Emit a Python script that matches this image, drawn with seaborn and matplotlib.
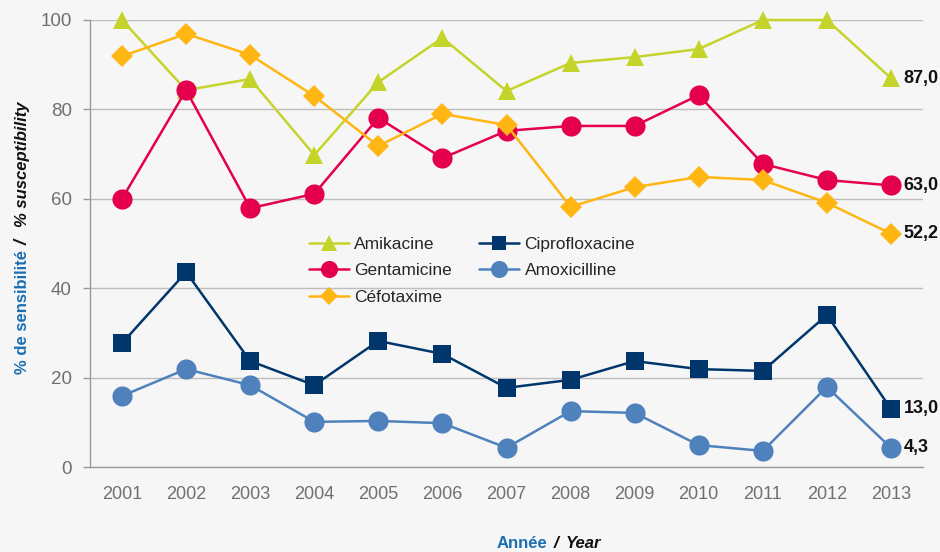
import matplotlib
matplotlib.use("Agg")
import matplotlib.pyplot as plt
import seaborn as sns
import pandas as pd
import numpy as np

years = list(range(2001, 2014))
amikacine = [100, 84.3, 86.8, 69.8, 86.1, 96.0, 84.1, 90.4, 91.7, 93.5, 100, 100, 87.0]
gentamicine = [60.0, 84.3, 57.9, 61.1, 78.1, 69.1, 75.2, 76.3, 76.3, 83.2, 67.8, 64.2, 63.0]
cefotaxime = [91.9, 96.9, 92.2, 83.0, 71.8, 79.0, 76.5, 58.2, 62.6, 64.9, 64.2, 59.1, 52.2]
ciprofloxacine = [27.7, 43.6, 23.7, 18.3, 28.2, 25.3, 17.7, 19.5, 23.7, 21.9, 21.5, 34.0, 13.0]
amoxicilline = [15.9, 21.9, 18.3, 10.1, 10.3, 9.8, 4.3, 12.5, 12.1, 4.9, 3.6, 17.9, 4.3]
end_labels = ["87,0", "63,0", "52,2", "13,0", "4,3"]

series = {
    "Amikacine": amikacine,
    "Gentamicine": gentamicine,
    "Céfotaxime": cefotaxime,
    "Ciprofloxacine": ciprofloxacine,
    "Amoxicilline": amoxicilline,
}
colors = {
    "Amikacine": "#c5d42a",
    "Gentamicine": "#e4004f",
    "Céfotaxime": "#ffb612",
    "Ciprofloxacine": "#00366b",
    "Amoxicilline": "#4f81bd",
}
markers = {
    "Amikacine": ("^", 13),
    "Gentamicine": ("o", 14.5),
    "Céfotaxime": ("D", 11),
    "Ciprofloxacine": ("s", 12.5),
    "Amoxicilline": ("o", 14.5),
}

bg = "#f6f6f6"
sns.set_style("white")
plt.rcParams["font.family"] = ["Liberation Sans", "DejaVu Sans"]

fig = plt.figure(figsize=(9.4, 5.52), dpi=100, facecolor=bg)
ax = fig.add_axes([90 / 940, 1 - 467 / 552, 833 / 940, 447 / 552])
ax.set_facecolor(bg)

for name, vals in series.items():
    m, ms = markers[name]
    sns.lineplot(x=years, y=vals, ax=ax, color=colors[name], marker=m,
                 markersize=ms, markeredgewidth=0, linewidth=1.8,
                 label=name, clip_on=False, zorder=3)

for (name, vals), txt in zip(series.items(), end_labels):
    ax.annotate(txt, (years[-1], vals[-1]), xytext=(9, 0), textcoords="offset points",
                ha="left", va="center", fontsize=13, fontweight="bold", color="#111111")

ax.set_xlim(2000.5, 2013.5)
ax.set_ylim(0, 100)
ax.set_xticks(years)
ax.set_xticklabels([str(y) for y in years])
ax.set_xticks(np.arange(2000.5, 2014, 1), minor=True)
ax.tick_params(axis="x", which="major", length=0, pad=14, labelsize=13, labelcolor="#707070")
ax.tick_params(axis="x", which="minor", length=5, width=1, color="#999999", direction="out")
ax.set_yticks([0, 20, 40, 60, 80, 100])
ax.tick_params(axis="y", length=5, width=1, color="#999999", pad=8, labelsize=13.5,
               labelcolor="#707070", left=True)
ax.grid(axis="y", color="#bdbdbd", linewidth=1)
ax.set_axisbelow(True)
for s in ["top", "right"]:
    ax.spines[s].set_visible(False)
for s in ["left", "bottom"]:
    ax.spines[s].set_color("#999999")
    ax.spines[s].set_linewidth(1)
ax.set_xlabel("")
ax.set_ylabel("")

ax.legend(ncol=2, loc="upper left", bbox_to_anchor=(300 / 940, 1 - 228 / 552),
          bbox_transform=fig.transFigure, frameon=False, fontsize=12.5,
          handlelength=2.3, handletextpad=0.3, columnspacing=1.6, labelspacing=0.65,
          borderpad=0, markerscale=0.85)

blue = "#1a6fb4"
# y-axis label in pieces
fig.text(23 / 940, 1 - 374 / 552, "% de sensibilité", rotation=90, ha="center", va="bottom",
         fontsize=12, fontweight="bold", color=blue)
fig.text(23 / 940, 1 - 245 / 552, "/", rotation=90, ha="center", va="bottom",
         fontsize=13, fontweight="bold", style="italic", color="#111111")
fig.text(23 / 940, 1 - 227 / 552, "% susceptibility", rotation=90, ha="center", va="bottom",
         fontsize=12, fontweight="bold", style="italic", color="#111111")

# x-axis label in pieces
fig.text(497 / 940, 9 / 552, "Année", ha="left", va="center",
         fontsize=12, fontweight="bold", color=blue)
fig.text(554 / 940, 9 / 552, "/", ha="left", va="center",
         fontsize=12.5, fontweight="bold", style="italic", color="#111111")
fig.text(566 / 940, 9 / 552, "Year", ha="left", va="center",
         fontsize=12, fontweight="bold", style="italic", color="#111111")

fig.savefig("out.png", dpi=100, facecolor=bg)
